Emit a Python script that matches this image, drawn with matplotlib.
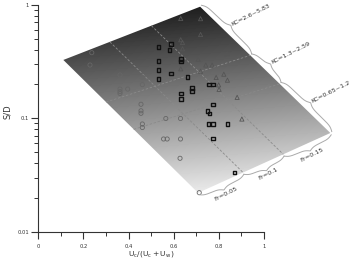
import numpy as np
import matplotlib
matplotlib.use('Agg')
import matplotlib.pyplot as plt
from matplotlib.patches import Polygon
from matplotlib.lines import Line2D
from matplotlib.transforms import IdentityTransform

# ---------------- data ----------------
circle_x = [0.237, 0.229, 0.362, 0.461, 0.461, 0.362, 0.362, 0.362, 0.396, 0.455,
            0.455, 0.455, 0.565, 0.630, 0.461, 0.461, 0.555, 0.571, 0.630, 0.628, 0.713]
circle_y = [0.379, 0.295, 0.241, 0.230, 0.198, 0.181, 0.172, 0.1655, 0.181, 0.133,
            0.1165, 0.1107, 0.0996, 0.0996, 0.0891, 0.0829, 0.0657, 0.0657, 0.0657, 0.0444, 0.0221]

square_x = [0.532, 0.587, 0.581, 0.532, 0.532, 0.587, 0.532, 0.631, 0.631, 0.661,
            0.755, 0.773, 0.682, 0.682, 0.631, 0.631, 0.773, 0.749, 0.758, 0.754,
            0.773, 0.839, 0.775, 0.869]
square_y = [0.428, 0.449, 0.400, 0.321, 0.265, 0.249, 0.221, 0.333, 0.317, 0.231,
            0.198, 0.198, 0.185, 0.174, 0.166, 0.148, 0.132, 0.1165, 0.110, 0.0885,
            0.0885, 0.0885, 0.0664, 0.0333]

tri_x = [0.631, 0.719, 0.719, 0.631, 0.639, 0.639, 0.837, 0.708, 0.742, 0.770,
         0.631, 0.719, 0.822, 0.788, 0.838, 0.799, 0.801, 0.881, 0.902]
tri_y = [0.759, 0.756, 0.548, 0.493, 0.466, 0.410, 0.371, 0.332, 0.295, 0.295,
         0.273, 0.260, 0.245, 0.229, 0.217, 0.197, 0.180, 0.153, 0.0985]

x_ticks = [0, 0.2, 0.4, 0.6, 0.8, 1]
x_ticklabels = ['0', '0.2', '0.4', '0.6', '0.8', '1']
y_ticks = [0.01, 0.1, 1]
y_ticklabels = ['0.01', '0.1', '1']

# shaded regime surface: corners (left, top, right, bottom) in data units
surf_x = [0.111, 0.717, 1.294, 0.708]
surf_y = [0.327, 0.964, 0.0742, 0.0220]
kc_labels = ['KC=2.6~5.83', 'KC=1.3~2.59', 'KC=0.65~1.2']
kc_split_left = [0.317, 0.522]     # fractions along left edge
kc_split_right = [0.385, 0.611]    # fractions along upper-right edge
fr_labels = ['Fr=0.05', 'Fr=0.1', 'Fr=0.15']
fr_split = [0.34, 0.644]           # fractions along top / bottom edges

# ---------------- figure ----------------
W, H = 349, 259
fig = plt.figure(figsize=(W / 100, H / 100), dpi=100)
bg = fig.add_axes([0, 0, 1, 1], zorder=0)
bg.set_axis_off()
bg.set_xlim(0, 1)
bg.set_ylim(0, 1)

ax = fig.add_axes([38.3 / W, (H - 231.7) / H, (264 - 38.3) / W, (231.7 - 4.9) / H], zorder=1)
ax.patch.set_alpha(0)
ax.set_xscale('linear')
ax.set_yscale('log')
ax.set_xlim(0, 1)
ax.set_ylim(0.01, 1)

# gradient clipped to the surface
px, py = np.meshgrid(np.arange(W) + 0.5, np.arange(H) + 0.5)
grad = 0.12 + 0.0043 * (py - 7) + 0.0004 * (px - 200)
grad = np.clip(grad, 0, 0.96)
poly = Polygon(np.column_stack([surf_x, surf_y]), closed=True, transform=ax.transData)
im = bg.imshow(grad, extent=[0, 1, 0, 1], cmap='gray', vmin=0, vmax=1,
               aspect='auto', origin='upper', interpolation='bilinear')
im.set_clip_path(poly)


def lerp_log(p, q, t):
    x = p[0] + (q[0] - p[0]) * t
    ly = np.log10(p[1]) + (np.log10(q[1]) - np.log10(p[1])) * t
    return x, 10 ** ly


Lc = (surf_x[0], surf_y[0]); Tc = (surf_x[1], surf_y[1])
Rc = (surf_x[2], surf_y[2]); Bc = (surf_x[3], surf_y[3])

dash = dict(color='#8a8a8a', lw=0.6, ls=(0, (3, 2)), clip_on=False, zorder=2)
for a, b in zip(kc_split_left, kc_split_right):
    p = lerp_log(Lc, Bc, a); q = lerp_log(Tc, Rc, b)
    ax.plot([p[0], q[0]], [p[1], q[1]], **dash)
for t in fr_split:
    p = lerp_log(Lc, Tc, t); q = lerp_log(Bc, Rc, t)
    ax.plot([p[0], q[0]], [p[1], q[1]], **dash)

# points
ax.scatter(circle_x, circle_y, s=9, marker='o', facecolors='none',
           edgecolors='#666666', linewidths=0.6, zorder=3, clip_on=False)
ax.scatter(tri_x, tri_y, s=9, marker='^', facecolors='none',
           edgecolors='#555555', linewidths=0.6, zorder=3, clip_on=False)
ax.scatter(square_x, square_y, s=7, marker='s', facecolors='none',
           edgecolors='#111111', linewidths=1.0, zorder=4, clip_on=False)


# braces (drawn in display pixels)
def brace(p0, p1, h, outward, gap=2.0, n=300):
    p0 = np.asarray(p0, float); p1 = np.asarray(p1, float)
    d = p1 - p0
    L = np.hypot(*d)
    u = d / L
    nrm = np.array([-u[1], u[0]]) if outward == 'left' else np.array([u[1], -u[0]])
    s = np.linspace(0, 1, n)
    half = s[:n // 2]
    beta = L / 2.5
    yh = 1 / (1 + np.exp(-beta * (half - half[0]))) + 1 / (1 + np.exp(-beta * (half - half[-1])))
    yb = np.concatenate([yh, yh[::-1]]) - 0.5
    pts = p0 + np.outer(s * L, u) + np.outer(gap + yb * h, nrm)
    tip = p0 + 0.5 * L * u + (gap + h) * nrm
    return pts, tip, nrm


T = ax.transData
fig.canvas.draw()
brace_kw = dict(color='#aaaaaa', lw=0.7, transform=IdentityTransform(), clip_on=False)

kc_b = [0.0] + kc_split_right + [1.0]
for i, lab in enumerate(kc_labels):
    p0 = T.transform(lerp_log(Tc, Rc, kc_b[i]))
    p1 = T.transform(lerp_log(Tc, Rc, kc_b[i + 1]))
    pts, tip, nrm = brace(p0, p1, 6, 'left')
    fig.add_artist(Line2D(pts[:, 0], pts[:, 1], **brace_kw))
    pos = tip + 1.5 * nrm
    fig.text(pos[0] / W, pos[1] / H, lab, fontsize=4.6, color='#333333', rotation=27,
             rotation_mode='anchor', ha='left', va='center')

fr_b = [0.0] + fr_split + [1.0]
for i, lab in enumerate(fr_labels):
    p0 = T.transform(lerp_log(Bc, Rc, fr_b[i]))
    p1 = T.transform(lerp_log(Bc, Rc, fr_b[i + 1]))
    pts, tip, nrm = brace(p0, p1, 6, 'right')
    fig.add_artist(Line2D(pts[:, 0], pts[:, 1], **brace_kw))
    pos = tip + 1.5 * nrm
    fig.text(pos[0] / W, pos[1] / H, lab, fontsize=4.6, color='#333333', rotation=27,
             rotation_mode='anchor', ha='center', va='top')

# axes styling
for sp in ['top', 'right']:
    ax.spines[sp].set_visible(False)
for sp in ['left', 'bottom']:
    ax.spines[sp].set_color('#333333')
    ax.spines[sp].set_linewidth(0.8)
ax.set_xticks(x_ticks)
ax.set_xticklabels(x_ticklabels)
ax.set_xticks(np.arange(0.1, 1.0, 0.2), minor=True)
ax.set_yticks(y_ticks)
ax.set_yticklabels(y_ticklabels)
ax.set_yticks([m * d for d in (0.01, 0.1) for m in range(2, 10)], minor=True)
ax.yaxis.set_minor_formatter(plt.NullFormatter())
ax.tick_params(axis='both', which='major', labelsize=3.8, colors='#333333',
               width=0.8, length=5, direction='out')
ax.tick_params(axis='both', which='minor', colors='#333333', width=0.7, length=3,
               direction='out')
ax.tick_params(axis='x', which='major', pad=3.5)
ax.tick_params(axis='y', which='major', pad=1.5)

ax.set_ylabel('S/D', fontsize=6, color='#333333')
ax.yaxis.set_label_coords(-0.115, 0.53)
ax.set_xlabel(r'$\mathregular{U_c/(U_c+U_w)}$', fontsize=5.4, color='#333333')
ax.xaxis.set_label_coords(0.5, -0.075)

fig.savefig('out.png', dpi=100)
